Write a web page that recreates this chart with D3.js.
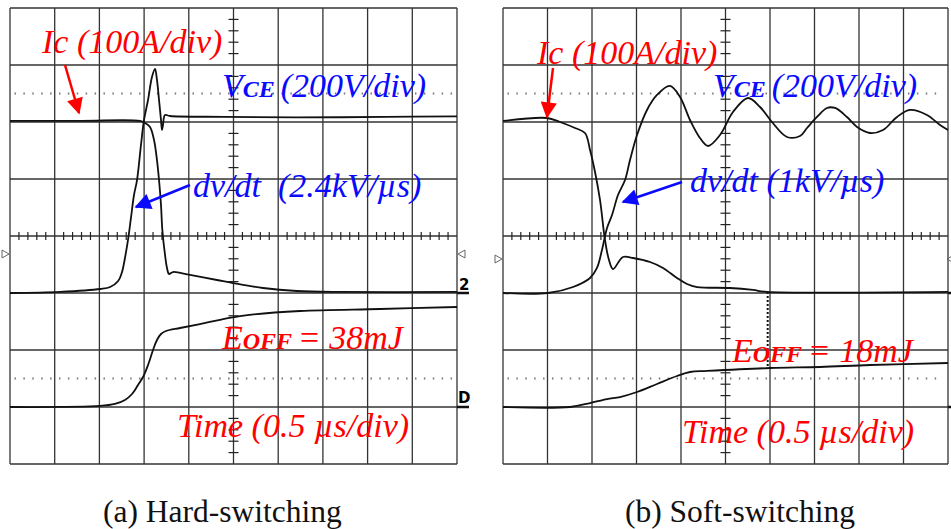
<!DOCTYPE html>
<html>
<head>
<meta charset="utf-8">
<script src="https://cdn.jsdelivr.net/npm/d3@7"></script>
<style>
  body { margin: 0; background: #fff; }
  svg { display: block; }
</style>
</head>
<body>
<svg width="951" height="529"></svg>
<script>
// scope traces, t in µs from left edge (0.5 µs/div), v in divisions from the centre line (up = +)
var hardVce = [[0,-1.0],[0.56,-0.98],[1.01,-0.93],[1.12,-0.895],[1.21,-0.79],[1.253,-0.632],[1.286,-0.386],
  [1.32,-0.07],[1.353,0.316],[1.387,0.719],[1.421,0.982],[1.465,1.596],[1.499,2.035],[1.544,2.386],[1.588,2.789],
  [1.622,2.93],[1.644,2.737],[1.667,2.386],[1.689,2.035],[1.70,1.86],[1.711,1.947],[1.734,2.123],[1.79,2.105],
  [2.4,2.09],[3.2,2.08],[4.2,2.09],[5.0,2.1]];
var hardIc = [[0,2.018],[0.8,2.02],[1.454,2.018],[1.51,1.982],[1.566,1.912],[1.611,1.684],[1.644,1.333],[1.667,0.982],
  [1.689,0.544],[1.704,0.105],[1.734,-0.333],[1.756,-0.561],[1.779,-0.667],[1.823,-0.632],[2.013,-0.684],
  [2.315,-0.772],[2.494,-0.825],[2.83,-0.912],[3.21,-0.965],[3.69,-0.982],[5.0,-0.982]];
var hardE = [[0,-3.0],[1.007,-2.982],[1.174,-2.947],[1.286,-2.877],[1.365,-2.772],[1.432,-2.614],[1.488,-2.474],
  [1.544,-2.263],[1.6,-2.0],[1.644,-1.825],[1.689,-1.719],[1.745,-1.667],[1.902,-1.614],[2.125,-1.544],
  [2.573,-1.404],[3.244,-1.316],[4.139,-1.281],[5.0,-1.246]];

var softVce = [[0,-1.0],[0.506,-1.0],[0.787,-0.895],[0.978,-0.737],[1.056,-0.561],[1.112,-0.246],[1.169,0.14],
  [1.225,0.368],[1.292,0.719],[1.371,0.982],[1.427,1.333],[1.506,1.772],[1.618,2.211],[1.73,2.474],[1.876,2.632],
  [1.989,2.439],[2.101,2.035],[2.213,1.719],[2.303,1.579],[2.438,1.772],[2.584,2.175],[2.753,2.421],[2.888,2.263],
  [3.022,2.0],[3.191,1.737],[3.337,1.754],[3.416,1.895],[3.528,2.088],[3.64,2.246],[3.73,2.246],[3.865,2.088],
  [3.978,1.912],[4.124,1.807],[4.27,1.86],[4.427,2.088],[4.573,2.211],[4.764,2.123],[4.91,1.947],[5.0,1.86]];
var softIc = [[0,2.018],[0.494,2.07],[0.64,2.0],[0.809,1.895],[0.921,1.807],[0.978,1.509],[1.034,1.123],
  [1.09,0.632],[1.146,-0.07],[1.191,-0.421],[1.236,-0.579],[1.348,-0.368],[1.461,-0.386],[1.652,-0.456],
  [1.798,-0.561],[1.955,-0.737],[2.067,-0.842],[2.18,-0.895],[2.551,-0.912],[2.809,-0.947],[2.966,-0.982],[5.0,-0.982]];
var softE = [[0,-3.0],[0.753,-3.0],[0.978,-2.93],[1.169,-2.86],[1.315,-2.825],[1.506,-2.737],[1.73,-2.596],
  [1.955,-2.456],[2.101,-2.386],[2.292,-2.368],[2.999,-2.316],[3.562,-2.298],[4.124,-2.263],[5.0,-2.228]];
var softMarkT = 2.974;   // dotted cursor on the soft-switching trace

var captions = ["(a) Hard-switching", "(b) Soft-switching"];
var icLabel = "Ic (100A/div)";
var vceLabel = "(200V/div)";
var dvdtLabels = ["dv/dt  (2.4kV/\u00b5s)", "dv/dt (1kV/\u00b5s)"];
var eoffLabels = ["= 38mJ", "= 18mJ"];
var timeLabel = "Time (0.5 \u00b5s/div)";

var SERIF = "'Liberation Serif', 'Times New Roman', Times, serif";
var svg = d3.select("svg");
var red = "#ff0000", blue = "#0a0aff";

svg.append("defs").selectAll("marker")
    .data([["ahRed", red], ["ahBlue", blue]])
    .enter().append("marker")
    .attr("id", function (d) { return d[0]; })
    .attr("viewBox", "0 0 10 10")
    .attr("refX", 9).attr("refY", 5)
    .attr("markerWidth", 8).attr("markerHeight", 6.5)
    .attr("markerUnits", "strokeWidth")
    .attr("orient", "auto")
    .append("path").attr("d", "M0,0L10,5L0,10z").attr("fill", function (d) { return d[1]; });

function panel(p) {
    var x = d3.scaleLinear().domain([0, 5]).range([p.x0, p.x1]);
    var y = d3.scaleLinear().domain([-4, 4]).range([464, 8]);
    var g = svg.append("g");

    // grid
    g.selectAll(".vl").data(d3.range(0, 10.01, 1)).enter().append("line")
        .attr("x1", function (d) { return x(d / 2); }).attr("x2", function (d) { return x(d / 2); })
        .attr("y1", y(4)).attr("y2", y(-4))
        .attr("stroke", "#333").attr("stroke-width", 1.3);
    g.selectAll(".hl").data(d3.range(-4, 4.01, 1)).enter().append("line")
        .attr("x1", x(0)).attr("x2", x(5))
        .attr("y1", function (d) { return y(d); }).attr("y2", function (d) { return y(d); })
        .attr("stroke", "#333").attr("stroke-width", 1.3);

    // centre graticule ticks
    g.selectAll(".ht").data(d3.range(0, 50, 1).filter(function (i) { return i % 5; })).enter().append("line")
        .attr("x1", function (d) { return x(d / 10); }).attr("x2", function (d) { return x(d / 10); })
        .attr("y1", y(0) - 4).attr("y2", y(0) + 4)
        .attr("stroke", "#222").attr("stroke-width", 1.2);
    g.selectAll(".vt").data(d3.range(-20, 20, 1).filter(function (i) { return (i + 20) % 5; })).enter().append("line")
        .attr("x1", x(2.5) - 5).attr("x2", x(2.5) + 5)
        .attr("y1", function (d) { return y(d / 5); }).attr("y2", function (d) { return y(d / 5); })
        .attr("stroke", "#222").attr("stroke-width", 1.2);

    // dotted reference levels
    [2.5, -2.5].forEach(function (lv) {
        g.append("line").attr("x1", x(0.05)).attr("x2", x(4.95))
            .attr("y1", y(lv)).attr("y2", y(lv))
            .attr("stroke", "#777").attr("stroke-width", 2)
            .attr("stroke-dasharray", "1.5,7.4");
    });

    var line = d3.line()
        .x(function (d) { return x(d[0]); })
        .y(function (d) { return y(d[1]); })
        .curve(d3.curveCatmullRom.alpha(0.5));

    [p.vce, p.ic, p.e].forEach(function (tr) {
        g.append("path").attr("d", line(tr))
            .attr("fill", "none").attr("stroke", "#111").attr("stroke-width", 1.8)
            .attr("stroke-linejoin", "round");
    });

    p.extra(g, x, y);

    // annotations
    function italic(tx, ty, col) {
        return g.append("text").attr("x", tx).attr("y", ty)
            .style("font-family", SERIF).style("white-space", "pre")
            .attr("fill", col).attr("font-style", "italic").attr("font-size", p.fs + "px");
    }
    italic(p.ic_t[0], p.ic_t[1], red).text(icLabel);
    var v = italic(p.vce_t[0], p.vce_t[1], blue);
    v.append("tspan").text("V");
    v.append("tspan").attr("font-size", "24px").attr("font-weight", "bold").text("CE ");
    v.append("tspan").text(vceLabel);
    italic(p.dv_t[0], p.dv_t[1], blue).text(p.dv);
    var e = italic(p.e_t[0], p.e_t[1], red);
    e.append("tspan").text("E");
    e.append("tspan").attr("font-size", "24px").attr("font-weight", "bold").text("OFF ");
    e.append("tspan").text(p.eoff);
    italic(p.time_t[0], p.time_t[1], red).text(timeLabel);

    g.append("line").attr("x1", p.ra[0]).attr("y1", p.ra[1]).attr("x2", p.ra[2]).attr("y2", p.ra[3])
        .attr("stroke", red).attr("stroke-width", 2.5).attr("marker-end", "url(#ahRed)");
    g.append("line").attr("x1", p.ba[0]).attr("y1", p.ba[1]).attr("x2", p.ba[2]).attr("y2", p.ba[3])
        .attr("stroke", blue).attr("stroke-width", 2.5).attr("marker-end", "url(#ahBlue)");

    g.append("text").attr("x", p.cap[0]).attr("y", p.cap[1])
        .style("font-family", SERIF)
        .attr("font-size", "31.5px").attr("fill", "#111").text(p.caption);
}

function tri(g, cx, cy, dir) {
    g.append("path")
        .attr("d", dir > 0 ? "M" + (cx - 3) + "," + (cy - 4) + "L" + (cx + 4) + "," + cy + "L" + (cx - 3) + "," + (cy + 4) + "Z"
                           : "M" + (cx + 3) + "," + (cy - 4) + "L" + (cx - 4) + "," + cy + "L" + (cx + 3) + "," + (cy + 4) + "Z")
        .attr("fill", "none").attr("stroke", "#666").attr("stroke-width", 1);
}

panel({
    x0: 10, x1: 457, vce: hardVce, ic: hardIc, e: hardE, fs: 34,
    ic_t: [42, 53], vce_t: [222, 97], dv_t: [193, 197], e_t: [222, 349], time_t: [177, 437],
    dv: dvdtLabels[0], eoff: eoffLabels[0],
    ra: [65, 65, 79, 113], ba: [190, 185, 136, 207],
    cap: [103, 522], caption: captions[0],
    extra: function (g, x, y) {
        tri(g, 5, 254, 1);
        tri(g, 462, 254, -1);
        g.append("text").attr("x", 459).attr("y", 290).attr("font-family", "DejaVu Sans")
            .attr("font-weight", "bold").attr("font-size", "15px").text("2");
        g.append("line").attr("x1", 457).attr("x2", 469).attr("y1", y(-1)).attr("y2", y(-1))
            .attr("stroke", "#111").attr("stroke-width", 2.5);
        g.append("text").attr("x", 458).attr("y", 403).attr("font-family", "DejaVu Sans")
            .attr("font-weight", "bold").attr("font-size", "15px").text("D");
        g.append("line").attr("x1", 457).attr("x2", 469).attr("y1", y(-3)).attr("y2", y(-3))
            .attr("stroke", "#111").attr("stroke-width", 2.5);
    }
});

panel({
    x0: 503, x1: 948, vce: softVce, ic: softIc, e: softE, fs: 34,
    ic_t: [537, 64], vce_t: [713, 97], dv_t: [690, 192], e_t: [732, 362], time_t: [682, 443],
    dv: dvdtLabels[1], eoff: eoffLabels[1],
    ra: [553, 68, 547, 117], ba: [682, 182, 623, 202],
    cap: [625, 522], caption: captions[1],
    extra: function (g, x, y) {
        tri(g, 498, 259, 1);
        tri(g, 951, 259, -1);
        var yTop = y(-0.982), yBot = y(-2.316);
        g.append("line").attr("x1", x(softMarkT)).attr("x2", x(softMarkT))
            .attr("y1", yTop).attr("y2", yBot)
            .attr("stroke", "#111").attr("stroke-width", 2).attr("stroke-dasharray", "2,2");
        g.append("line").attr("x1", 948).attr("x2", 951).attr("y1", y(-1)).attr("y2", y(-1))
            .attr("stroke", "#111").attr("stroke-width", 2.5);
        g.append("line").attr("x1", 948).attr("x2", 951).attr("y1", y(-3)).attr("y2", y(-3))
            .attr("stroke", "#111").attr("stroke-width", 2.5);
    }
});
</script>
</body>
</html>
